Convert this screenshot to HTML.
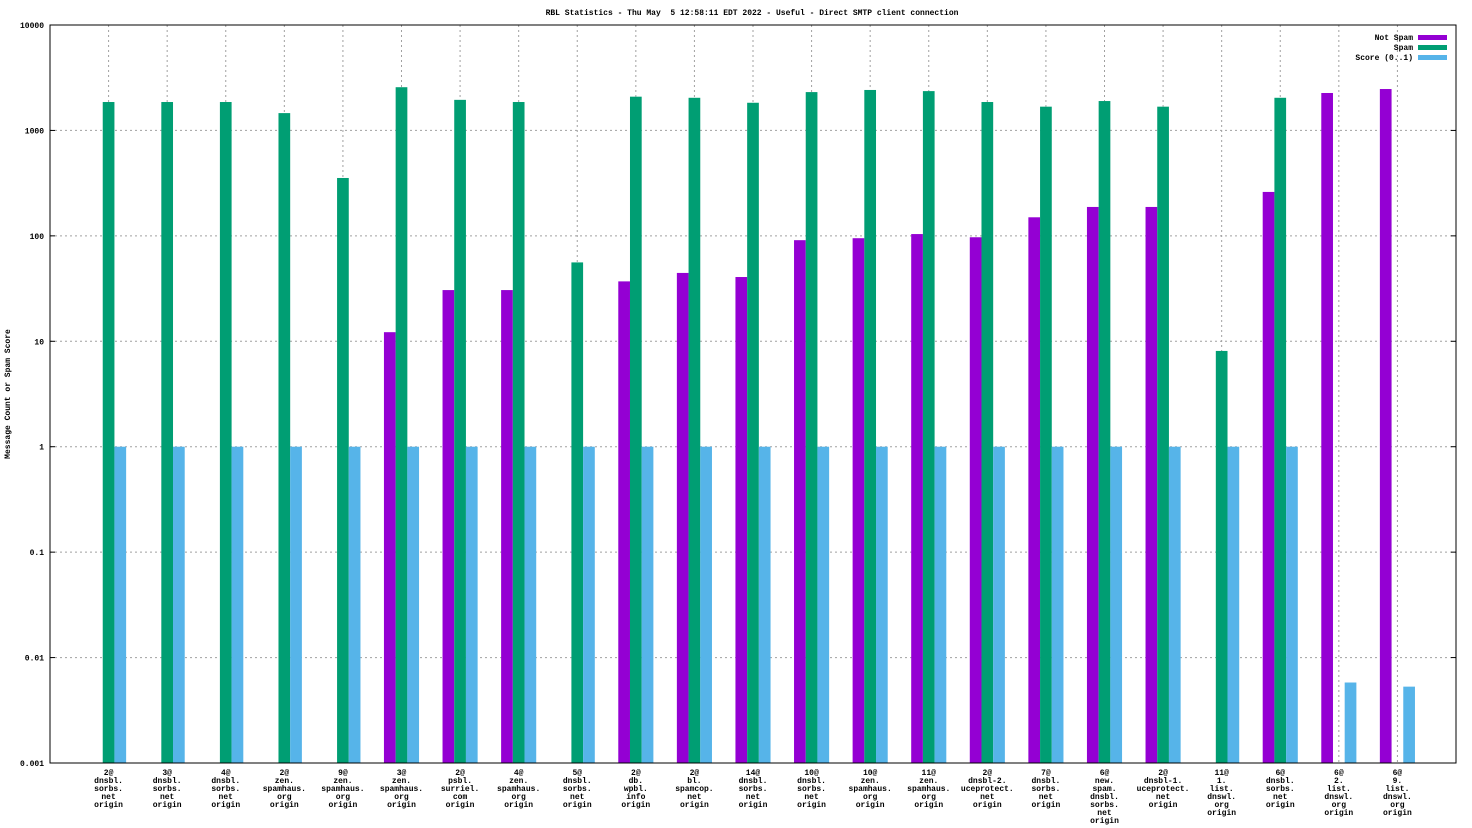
<!DOCTYPE html>
<html><head><meta charset="utf-8"><style>
body{margin:0;background:#fff}
svg{display:block;font-family:"Liberation Mono",monospace}
text{white-space:pre}
</style></head><body>
<svg id="chart" width="1472" height="828" xmlns="http://www.w3.org/2000/svg"></svg>
<script>
const categories=[
["2@","dnsbl.","sorbs.","net","origin"],["3@","dnsbl.","sorbs.","net","origin"],["4@","dnsbl.","sorbs.","net","origin"],
["2@","zen.","spamhaus.","org","origin"],["9@","zen.","spamhaus.","org","origin"],["3@","zen.","spamhaus.","org","origin"],
["2@","psbl.","surriel.","com","origin"],["4@","zen.","spamhaus.","org","origin"],["5@","dnsbl.","sorbs.","net","origin"],
["2@","db.","wpbl.","info","origin"],["2@","bl.","spamcop.","net","origin"],["14@","dnsbl.","sorbs.","net","origin"],
["10@","dnsbl.","sorbs.","net","origin"],["10@","zen.","spamhaus.","org","origin"],["11@","zen.","spamhaus.","org","origin"],
["2@","dnsbl-2.","uceprotect.","net","origin"],["7@","dnsbl.","sorbs.","net","origin"],["6@","new.","spam.","dnsbl.","sorbs.","net","origin"],
["2@","dnsbl-1.","uceprotect.","net","origin"],["11@","1.","list.","dnswl.","org","origin"],["6@","dnsbl.","sorbs.","net","origin"],
["6@","2.","list.","dnswl.","org","origin"],["6@","9.","list.","dnswl.","org","origin"]];
const notSpam=[null,null,null,null,null,12.2,30.6,30.6,null,37,44.5,40.7,91,95,104,97,150,188,188,null,261,2265,2470];
const spam=[1860,1860,1860,1460,354,2570,1950,1860,56,2090,2040,1830,2310,2420,2360,1860,1680,1900,1680,8.1,2040,null,null];
const score=[1,1,1,1,1,1,1,1,1,1,1,1,1,1,1,1,1,1,1,1,1,0.0058,0.0053];
const yTicks=[10000,1000,100,10,1,0.1,0.01,0.001];
const yTickLabels=["10000","1000","100","10","1","0.1","0.01","0.001"];

const L=50,R=1456,T=25,B=763;
const NS="http://www.w3.org/2000/svg";
const svg=document.getElementById('chart');
function y(v){return B-(Math.log10(v)+3)/7*(B-T);}
function x(i){return L+(i+1)*(R-L)/24;}
function mk(t,a,p){const e=document.createElementNS(NS,t);for(const k in a)e.setAttribute(k,a[k]);(p||svg).appendChild(e);return e;}
const bw=11.7;
const grid=mk('g',{});


yTicks.forEach((v,k)=>{
  if(k>0&&k<yTicks.length-1){mk('line',{x1:L,x2:R,y1:y(v),y2:y(v),stroke:'#a0a0a0','stroke-dasharray':'2,3','stroke-width':1},grid);}
  const t=mk('text',{x:L-6,y:y(v)+3,'text-anchor':'end','font-size':8,'font-weight':'bold'});
  t.textContent=yTickLabels[k];
  
  
  mk('line',{x1:L,x2:L+5,y1:y(v),y2:y(v),stroke:'#000'});
  mk('line',{x1:R,x2:R-5,y1:y(v),y2:y(v),stroke:'#000'});
});
categories.forEach((c,i)=>{
  mk('line',{x1:x(i),x2:x(i),y1:T,y2:B,stroke:'#a0a0a0','stroke-dasharray':'2,3'},grid);
});
function bar(v,i,off,col,name){
  if(v==null)return;
  const r=mk('rect',{x:x(i)+off*bw-bw/2,y:y(v),width:bw,height:B-y(v),fill:col});
  
  
}
categories.forEach((c,i)=>{
  bar(notSpam[i],i,-1,'#9400d3','bar-not-spam');
  bar(spam[i],i,0,'#009e73','bar-spam');
  bar(score[i],i,1,'#56b4e9','bar-score');
  c.forEach((s,j)=>{
    const t=mk('text',{x:x(i),y:775+j*8,'text-anchor':'middle','font-size':8,'font-weight':'bold'});
    t.textContent=s;
    
    
  });
});
mk('rect',{x:L,y:T,width:R-L,height:B-T,fill:'none',stroke:'#000','stroke-width':1});
const title=mk('text',{x:752,y:15,'text-anchor':'middle','font-size':8,'font-weight':'bold'});
title.textContent='RBL Statistics - Thu May  5 12:58:11 EDT 2022 - Useful - Direct SMTP client connection';


const yt=mk('text',{x:10,y:394,'text-anchor':'middle','font-size':8,'font-weight':'bold',transform:'rotate(-90 10 394)'});
yt.textContent='Message Count or Spam Score';


const leg=[["Not Spam","#9400d3"],["Spam","#009e73"],["Score (0..1)","#56b4e9"]];
leg.forEach((l,k)=>{
  const g=mk('g',{});
  
  
  const t=mk('text',{x:1413,y:40+k*10,'text-anchor':'end','font-size':8,'font-weight':'bold'},g);t.textContent=l[0];
  mk('rect',{x:1418,y:35+k*10,width:29,height:5,fill:l[1]},g);
});
</script>
</body></html>
